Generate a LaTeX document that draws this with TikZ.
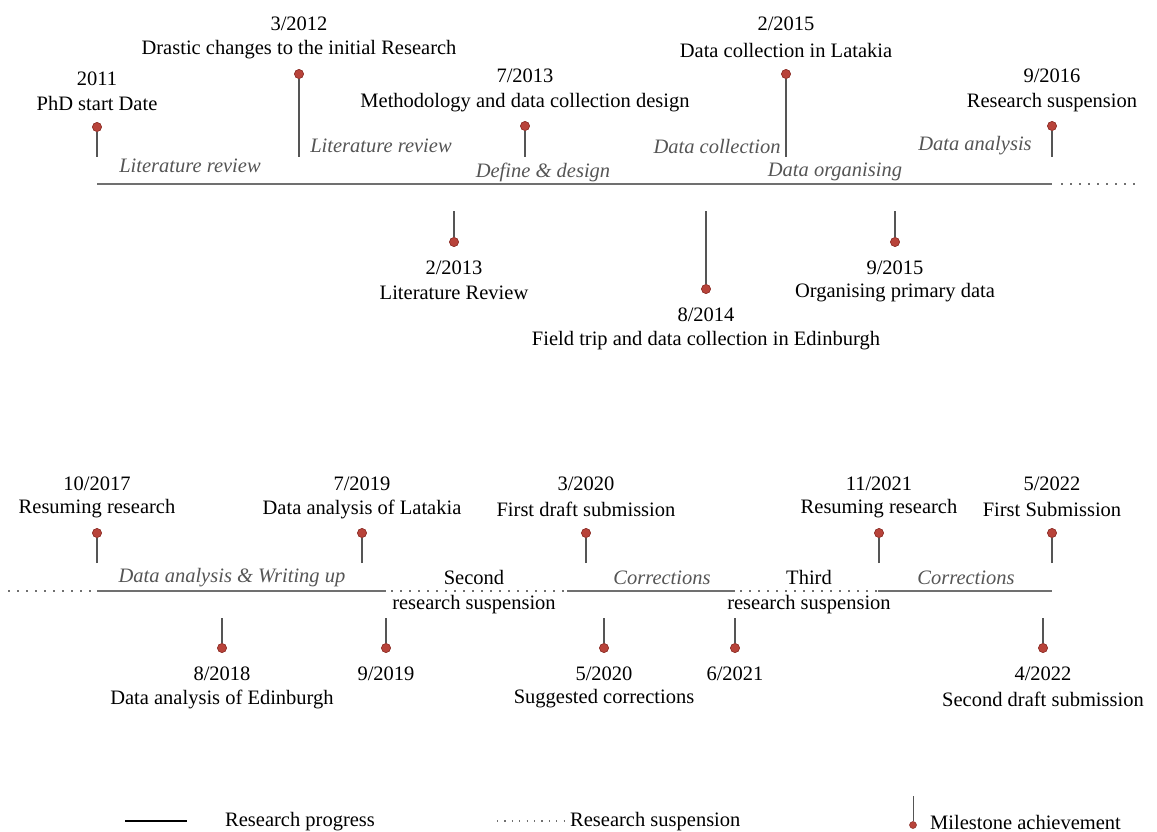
\documentclass[tikz,border=0pt]{standalone}
\usepackage{fontspec}
\setmainfont{Liberation Serif}
\definecolor{pinred}{HTML}{B8433A}
\definecolor{pinedge}{HTML}{8A2E28}
\definecolor{stemgray}{HTML}{555555}
\definecolor{linegray}{HTML}{707070}
\definecolor{phasegray}{HTML}{555555}
\tikzset{
  pindot/.style={circle, fill=pinred, draw=pinedge, line width=0.5pt, inner sep=0pt, minimum size=9pt},
  stem/.style={draw=stemgray, line width=1.3pt},
  progress/.style={draw=linegray, line width=1.8pt},
  suspension/.style={draw=linegray, line width=1.8pt, dash pattern=on 1.5pt off 7.5pt},
  lbl/.style={inner sep=0pt, font=\fontsize{20.5}{23}\selectfont},
  phase/.style={inner sep=0pt, text=phasegray, font=\fontsize{20.5}{23}\selectfont\itshape},
  legendtxt/.style={inner sep=0pt, anchor=west, font=\fontsize{20.5}{23}\selectfont}
}
% milestone pin: name, x, dot y, free end y of the stem
\newcommand{\msPin}[4]{%
  \coordinate (#1-base) at (#2,#4);
  \node[pindot] (#1) at (#2,#3) {};
  \draw[stem] (#1-base) -- (#1);
  \node[pindot] at (#1) {};}
\begin{document}
\begin{tikzpicture}[x=1pt,y=-1pt]
\useasboundingbox (0,0) rectangle (1157,832);

% ---------- first timeline (2011 -- 2016) ----------
\coordinate (ta) at (97,184);
\coordinate (tb) at (1052,184);
\coordinate (tc) at (1137,184);
\draw[progress] (ta) -- (tb);
\draw[suspension] (tb) ++(9,0) -- (tc);

% pins above the line
\msPin{m2011}{97}{127}{157}
\msPin{m2012}{299}{74}{157}
\msPin{m2013b}{525}{126}{157}
\msPin{m2015a}{786}{74}{157}
\msPin{m2016}{1052}{126}{157}

\node[lbl] at (97,79) {2011};
\node[lbl] at (97,103) {PhD start Date};
\node[lbl] at (299,24) {3/2012};
\node[lbl] at (299,50) {Drastic changes to the initial Research};
\node[lbl] at (525,76) {7/2013};
\node[lbl] at (525,103) {Methodology and data collection design};
\node[lbl] at (786,24) {2/2015};
\node[lbl] at (786,50) {Data collection in Latakia};
\node[lbl] at (1052,76) {9/2016};
\node[lbl] at (1052,103) {Research suspension};

% pins below the line
\msPin{m2013a}{454}{242}{211}
\msPin{m2014}{706}{289}{211}
\msPin{m2015b}{895}{242}{211}

\node[lbl] at (454,268) {2/2013};
\node[lbl] at (454,293) {Literature Review};
\node[lbl] at (706,315) {8/2014};
\node[lbl] at (706,341) {Field trip and data collection in Edinburgh};
\node[lbl] at (895,268) {9/2015};
\node[lbl] at (895,293) {Organising primary data};

% phases
\node[phase] at (190,166) {Literature review};
\node[phase] at (381,146) {Literature review};
\node[phase] at (543,172) {Define \& design};
\node[phase] at (717,146) {Data collection};
\node[phase] at (835,172) {Data organising};
\node[phase] at (975,146) {Data analysis};

% ---------- second timeline (2017 -- 2022) ----------
\coordinate (ba) at (8,591);
\coordinate (bb) at (97,591);
\coordinate (bc) at (386,591);
\coordinate (bd) at (567,591);
\coordinate (be) at (735,591);
\coordinate (bf) at (878,591);
\coordinate (bg) at (1052,591);
\draw[suspension] (ba) -- (bb);
\draw[progress] (bb) -- (bc);
\draw[suspension] (bc) ++(5,0) -- (bd);
\draw[progress] (bd) -- (be);
\draw[suspension] (be) ++(5,0) -- (bf);
\draw[progress] (bf) -- (bg);

% pins above the line
\msPin{m2017}{97}{533}{563}
\msPin{m2019a}{362}{533}{563}
\msPin{m2020a}{586}{533}{563}
\msPin{m2021b}{879}{533}{563}
\msPin{m2022b}{1052}{533}{563}

\node[lbl] at (97,484) {10/2017};
\node[lbl] at (97,509) {Resuming research};
\node[lbl] at (362,484) {7/2019};
\node[lbl] at (362,509) {Data analysis of Latakia};
\node[lbl] at (586,484) {3/2020};
\node[lbl] at (586,509) {First draft submission};
\node[lbl] at (879,484) {11/2021};
\node[lbl] at (879,509) {Resuming research};
\node[lbl] at (1052,484) {5/2022};
\node[lbl] at (1052,509) {First Submission};

% pins below the line
\msPin{m2018}{222}{648}{618}
\msPin{m2019b}{386}{648}{618}
\msPin{m2020b}{604}{648}{618}
\msPin{m2021a}{735}{648}{618}
\msPin{m2022a}{1043}{648}{618}

\node[lbl] at (222,674) {8/2018};
\node[lbl] at (222,699) {Data analysis of Edinburgh};
\node[lbl] at (386,674) {9/2019};
\node[lbl] at (604,674) {5/2020};
\node[lbl] at (604,699) {Suggested corrections};
\node[lbl] at (735,674) {6/2021};
\node[lbl] at (1043,674) {4/2022};
\node[lbl] at (1043,699) {Second draft submission};

% phases and gaps
\node[phase] at (232,578) {Data analysis \& Writing up};
\node[phase] at (662,578) {Corrections};
\node[phase] at (966,578) {Corrections};
\node[lbl] at (474,577) {Second};
\node[lbl] at (474,605) {research suspension};
\node[lbl] at (809,577) {Third};
\node[lbl] at (809,605) {research suspension};

% ---------- legend ----------
\coordinate (lga) at (125,821);
\coordinate (lgb) at (187,821);
\draw[line width=1.4pt, black] (lga) -- (lgb);
\node[legendtxt] (lgt1) at (225,822) {Research progress};

\coordinate (lgc) at (497,821);
\coordinate (lgd) at (564,821);
\draw[line width=1.2pt, linegray, dash pattern=on 1.2pt off 6.2pt] (lgc) -- (lgd);
\node[legendtxt] (lgt2) at (570,822) {Research suspension};

\coordinate (lge) at (913,796);
\node[pindot, minimum size=7pt] (lgpin) at (913,825) {};
\draw[stemgray, line width=1pt] (lge) -- (lgpin);
\node[legendtxt] (lgt3) at (930,822) {Milestone achievement};
\end{tikzpicture}
\end{document}
